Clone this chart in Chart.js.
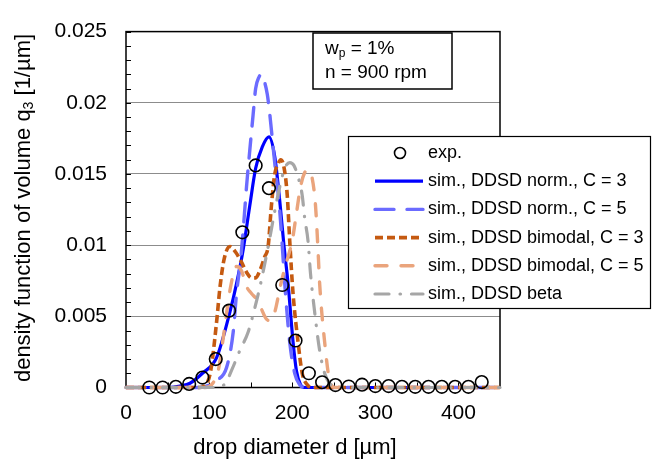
<!DOCTYPE html>
<html><head><meta charset="utf-8">
<script src="https://cdn.jsdelivr.net/npm/chart.js@4/dist/chart.umd.min.js"></script>
<style>html,body{margin:0;padding:0;background:#fff;}#wrap{width:656px;height:462px;}</style>
</head><body><div id="wrap"><canvas id="c" width="656" height="462"></canvas></div>
<script>
// ---- data ----
const expX = [28,44,60,76,92,108,124,140,156,172,188,204,220,236,252,268,284,300,316,332,348,364,380,396,412,428];
const expY = [0,0,0.00005,0.00025,0.0007,0.002,0.0054,0.0109,0.0156,0.014,0.0072,0.0033,0.001,0.00037,0.00017,0.00007,0.0002,0.0001,0.0001,0.00005,0.00005,0.00005,0.00005,0.00005,0.00005,0.00038];

const normC3X = [0,53,65,77,92,109,125,133,141,149,156,164,172,179,185,190,195,201,205,210,215,450];
const normC3Y = [0,0,0.0001,0.0003,0.001,0.0021,0.0053,0.0073,0.0097,0.0128,0.0154,0.0169,0.0176,0.0162,0.0131,0.01,0.0073,0.0032,0.0012,0.0002,0,0];

const normC5X = [0,83,95,109,121,129,133,138,142,145,149,153,156,160,163,166,170,173,177,180,184,188,191,197,203,209,216,450];
const normC5Y = [0,0,0.00007,0.0005,0.0014,0.0039,0.0066,0.009,0.0118,0.0141,0.0167,0.0192,0.021,0.0218,0.022,0.0216,0.0206,0.0192,0.0169,0.0152,0.0131,0.01,0.0073,0.0032,0.001,0.0002,0,0];

const bimC3X = [0,89,96,102,109,113,118,125,132,139,145,151,156,161,167,171,175,179,183,186,190,194,197,201,207,212,218,224,450];
const bimC3Y = [0,0,0.00017,0.0012,0.0046,0.007,0.009,0.0099,0.0095,0.0088,0.0081,0.0077,0.0077,0.0082,0.0092,0.0099,0.0128,0.015,0.0157,0.016,0.0155,0.0135,0.0103,0.0066,0.0032,0.001,0.0002,0,0];

const bimC5X = [0,95,103,111,118,125,133,139,145,151,157,163,169,174,179,186,194,200,205,210,215,219,224,228,231,233,239,245,252,450];
const bimC5Y = [0,0,0.0002,0.0012,0.0039,0.0068,0.0085,0.0082,0.0071,0.0066,0.0062,0.0055,0.0048,0.0047,0.0053,0.0072,0.009,0.0103,0.0122,0.0141,0.0151,0.0153,0.0147,0.0128,0.0097,0.0073,0.0032,0.0005,0,0];

const betaX = [0,107,119,127,137,147,155,162,168,173,179,185,191,197,202,207,212,215,219,222,227,233,239,245,257,450];
const betaY = [0,0,0.00024,0.0012,0.0026,0.0039,0.0056,0.0073,0.009,0.0105,0.0124,0.0141,0.0154,0.0158,0.0156,0.0148,0.0135,0.0119,0.0103,0.008,0.0053,0.0026,0.001,0.0003,0,0];

const seriesLabels = ['exp.','sim., DDSD norm., C = 3','sim., DDSD norm., C = 5','sim., DDSD bimodal, C = 3','sim., DDSD bimodal, C = 5','sim., DDSD beta'];
const xTickValues = [0,100,200,300,400];
const yTickLabels = ['0','0.005','0.01','0.015','0.02','0.025'];
const xTitle = 'drop diameter d [\u00b5m]';
const yTitleMain = 'density function of volume q';
const yTitleSub = '3';
const yTitleEnd = ' [1/\u00b5m]';
const noteLines = [['w','p',' = 1%'],['n = 900 rpm','','']];

const pts = (xs, ys) => xs.map((x, i) => ({x: x, y: ys[i]}));
const FONT = '"Liberation Sans", Arial, sans-serif';

const lineDs = (label, xs, ys, color, width, dash, cap, order) => ({
  label, data: pts(xs, ys), borderColor: color, backgroundColor: color,
  borderWidth: width, borderDash: dash, borderCapStyle: cap, pointRadius: 0, showLine: true,
  cubicInterpolationMode: 'monotone', clip: false, fill: false, order
});

const datasets = [
  {label: seriesLabels[0], data: pts(expX, expY), showLine: false, pointRadius: 6.3,
   pointBorderWidth: 1.6, pointBorderColor: '#000', pointBackgroundColor: 'rgba(0,0,0,0)', clip: false, order: 0},
  lineDs(seriesLabels[1], normC3X, normC3Y, '#0000ff', 3.2, [], 'butt', 5),
  lineDs(seriesLabels[2], normC5X, normC5Y, '#6b6bff', 3.4, [19,13], 'round', 4),
  lineDs(seriesLabels[3], bimC3X, bimC3Y, '#c55a11', 3.6, [8,4], 'butt', 3),
  lineDs(seriesLabels[4], bimC5X, bimC5Y, '#eaa47c', 3.4, [12,14], 'round', 2),
  lineDs(seriesLabels[5], betaX, betaY, '#a6a6a6', 3.2, [14,11,0.5,11], 'round', 1)
];

const decor = {
  id: 'decor',
  beforeDatasetsDraw(chart) {
    const {ctx, chartArea: a, scales: {x, y}} = chart;
    ctx.save();
    ctx.strokeStyle = '#000'; ctx.lineWidth = 1.5;
    ctx.strokeRect(a.left, a.top, a.right - a.left, a.bottom - a.top);
    ctx.lineWidth = 1;
    ctx.beginPath();
    for (let v = 0; v <= 25; v++) {
      const py = Math.round(y.getPixelForValue(v * 0.001)) + 0.5;
      ctx.moveTo(a.left, py); ctx.lineTo(a.left + 5, py);
    }
    for (let v = 50; v < 450; v += 50) {
      const px = Math.round(x.getPixelForValue(v)) + 0.5;
      ctx.moveTo(px, a.bottom); ctx.lineTo(px, a.bottom - 5);
    }
    ctx.stroke();
    ctx.restore();
  },
  afterDraw(chart) {
    const {ctx} = chart;
    ctx.save();
    ctx.fillStyle = '#000';
    ctx.font = '22px ' + FONT;
    ctx.textBaseline = 'middle';
    ctx.textAlign = 'center';
    ctx.fillText(xTitle, 295, 448);
    ctx.save();
    ctx.translate(24, 208);
    ctx.rotate(-Math.PI / 2);
    ctx.font = '22px ' + FONT;
    const w1 = ctx.measureText(yTitleMain).width;
    ctx.font = '14px ' + FONT;
    const w2 = ctx.measureText(yTitleSub).width;
    ctx.font = '22px ' + FONT;
    const w3 = ctx.measureText(yTitleEnd).width;
    let sx = -(w1 + w2 + w3) / 2;
    ctx.textAlign = 'left';
    ctx.fillText(yTitleMain, sx, 0); sx += w1;
    ctx.font = '14px ' + FONT; ctx.fillText(yTitleSub, sx, 5); sx += w2;
    ctx.font = '22px ' + FONT; ctx.fillText(yTitleEnd, sx, 0);
    ctx.restore();

    ctx.fillStyle = '#fff';
    ctx.fillRect(313, 33, 139, 56);
    ctx.strokeStyle = '#000'; ctx.lineWidth = 1.5;
    ctx.strokeRect(313, 33, 139, 56);
    ctx.fillStyle = '#000';
    ctx.textAlign = 'left';
    noteLines.forEach((ln, i) => {
      const yy = 49 + i * 24;
      let xx = 325;
      ctx.font = '19px ' + FONT; ctx.fillText(ln[0], xx, yy); xx += ctx.measureText(ln[0]).width;
      if (ln[1]) { ctx.font = '12px ' + FONT; ctx.fillText(ln[1], xx, yy + 5); xx += ctx.measureText(ln[1]).width; }
      if (ln[2]) { ctx.font = '19px ' + FONT; ctx.fillText(ln[2], xx, yy); }
    });

    const L = {left: 348, top: 136, right: 650, bottom: 308};
    ctx.fillStyle = '#fff';
    ctx.fillRect(L.left, L.top, L.right - L.left, L.bottom - L.top);
    ctx.strokeStyle = '#000'; ctx.lineWidth = 1.2;
    ctx.strokeRect(L.left + 0.5, L.top + 0.5, L.right - L.left, L.bottom - L.top);
    chart.data.datasets.forEach((ds, i) => {
      const yy = L.top + 17 + i * 28.2;
      if (ds.showLine === false) {
        ctx.beginPath(); ctx.arc(400, yy, 5.5, 0, Math.PI * 2);
        ctx.strokeStyle = '#000'; ctx.lineWidth = 1.6; ctx.stroke();
      } else {
        ctx.beginPath(); ctx.setLineDash(ds.borderDash); ctx.lineCap = ds.borderCapStyle;
        ctx.strokeStyle = ds.borderColor; ctx.lineWidth = ds.borderWidth;
        ctx.moveTo(375, yy); ctx.lineTo(423, yy); ctx.stroke(); ctx.setLineDash([]); ctx.lineCap = 'butt';
      }
      ctx.fillStyle = '#000'; ctx.font = '18px ' + FONT; ctx.textAlign = 'left';
      ctx.fillText(ds.label, 428, yy);
    });
    ctx.restore();
  }
};

new Chart(document.getElementById('c'), {
  type: 'scatter',
  data: {datasets},
  options: {
    responsive: false, animation: false, devicePixelRatio: 1,
    layout: {padding: {left: 0, top: 20, right: 156, bottom: 0}},
    plugins: {legend: {display: false}, tooltip: {enabled: false}},
    scales: {
      x: {type: 'linear', min: 0, max: 450,
        afterFit: s => { s.height = 74.5; },
        afterBuildTicks: s => { s.ticks = xTickValues.map(v => ({value: v})); },
        grid: {display: false, drawTicks: false},
        border: {display: false},
        ticks: {color: '#000', font: {family: FONT, size: 21}, padding: 13, maxRotation: 0}
      },
      y: {type: 'linear', min: 0, max: 0.025,
        afterFit: s => { s.width = 126; },
        ticks: {stepSize: 0.005, color: '#000', font: {family: FONT, size: 21}, padding: 19,
          callback: (v, i) => yTickLabels[i]},
        grid: {color: '#8c8c8c', lineWidth: 1, drawTicks: false},
        border: {display: false}
      }
    }
  },
  plugins: [decor]
});
</script></body></html>
